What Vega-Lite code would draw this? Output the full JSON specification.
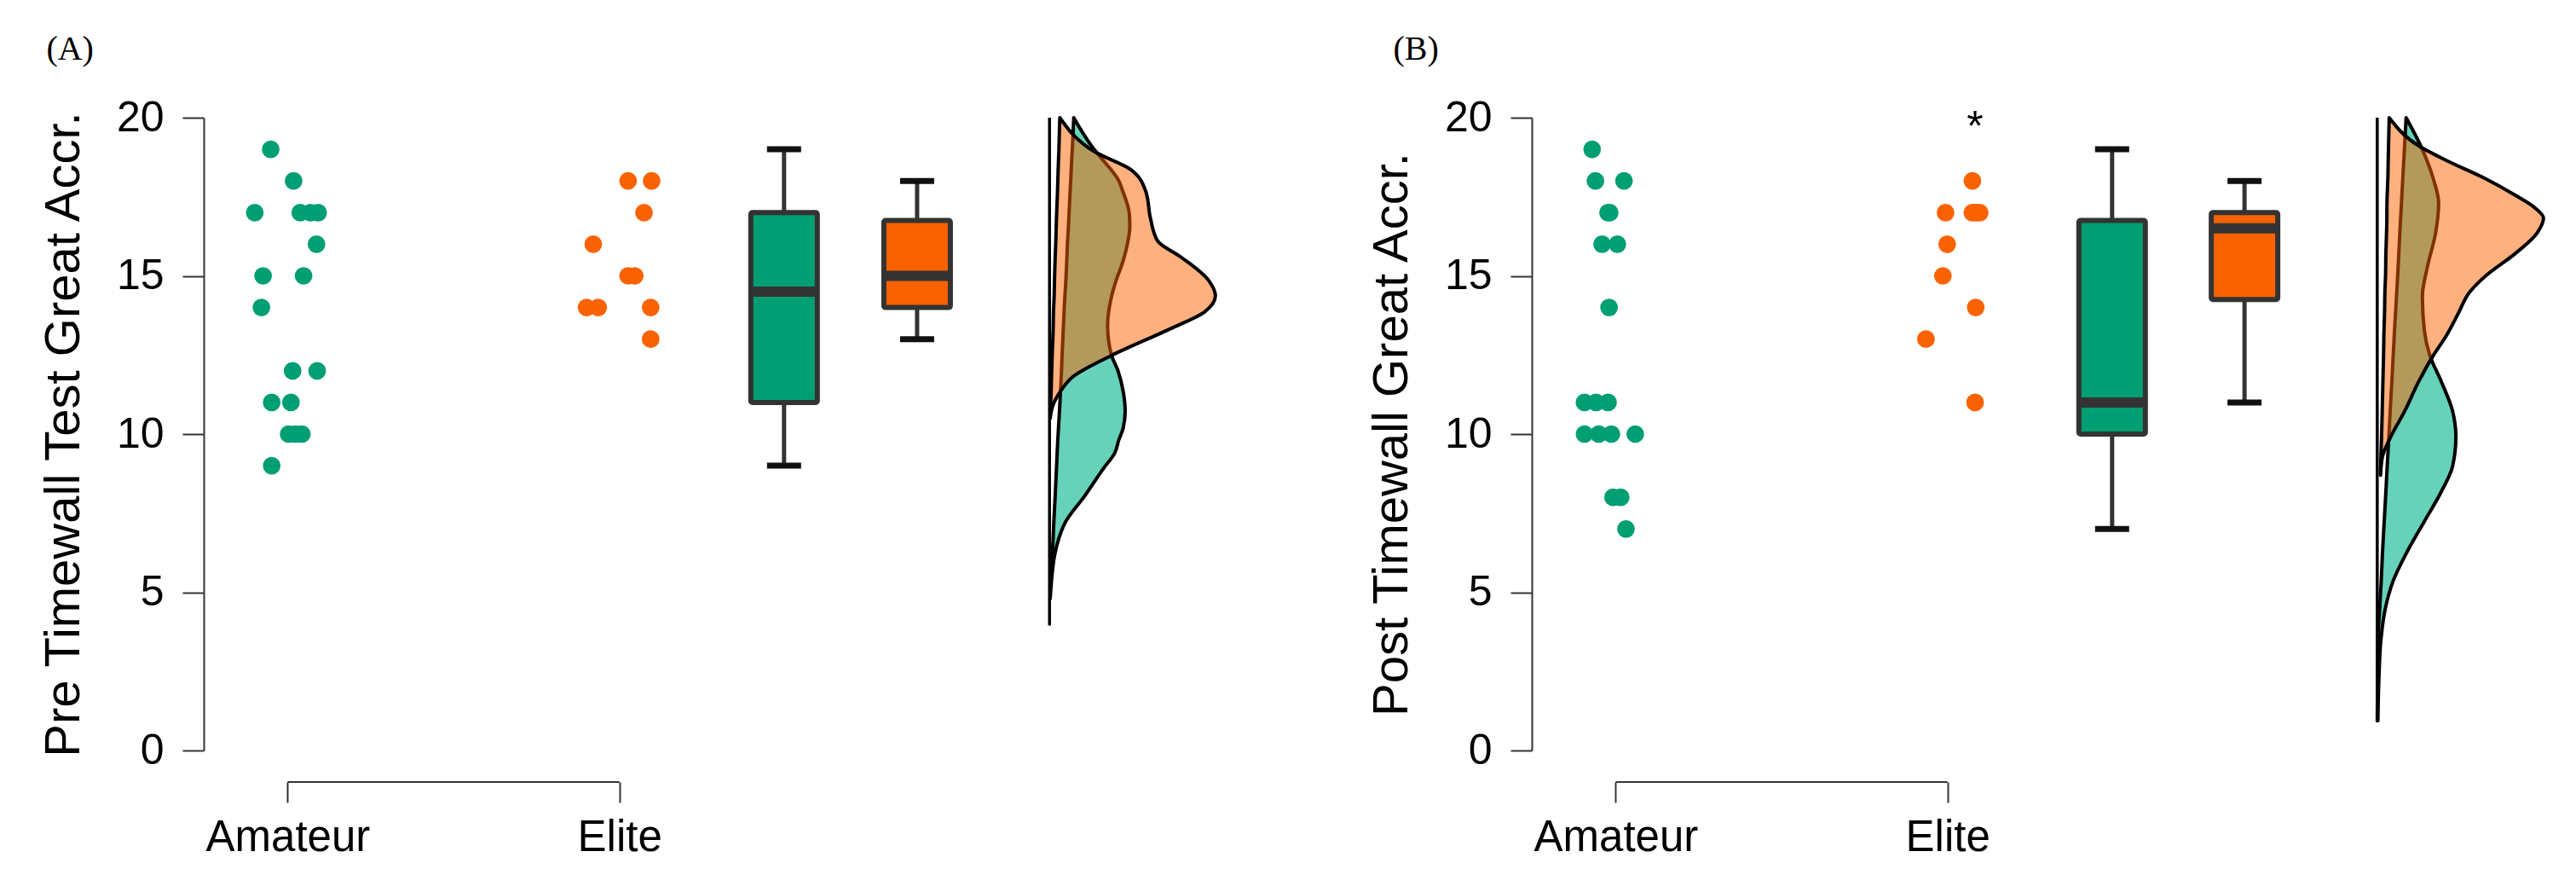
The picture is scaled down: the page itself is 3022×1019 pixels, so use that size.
{
  "$schema": "https://vega.github.io/schema/vega-lite/v6.json",
  "background": "white",
  "padding": {"left": 46, "top": 38, "right": 0, "bottom": 0},
  "spacing": 156,
  "config": {
    "view": {"stroke": null},
    "font": "Liberation Sans",
    "title": {"font": "Liberation Serif", "fontSize": 40, "fontWeight": "normal", "color": "black", "anchor": "start", "frame": "bounds"},
    "axisX": {"domain": false, "grid": false, "offset": 37, "tickSize": 24, "tickWidth": 2, "tickColor": "#333333", "labelFontSize": 51, "labelFont": "Liberation Sans", "labelColor": "black", "labelPadding": 16, "labelFlush": false, "labelLimit": 0},
    "axisY": {"grid": false, "domainColor": "#333333", "domainWidth": 2, "tickSize": 25, "tickWidth": 2, "tickColor": "#333333", "labelFontSize": 50, "labelFont": "Liberation Sans", "labelColor": "black", "labelPadding": 22, "labelFlush": false, "labelLimit": 0, "titleFontSize": 58, "titleFont": "Liberation Sans", "titleFontWeight": "normal", "titleColor": "black", "titlePadding": 32}
  },
  "datasets": {
    "points": [
      {"p": "A", "g": "Amateur", "u": 0.949, "v": 19},
      {"p": "A", "g": "Amateur", "u": 1.018, "v": 18},
      {"p": "A", "g": "Amateur", "u": 0.901, "v": 17},
      {"p": "A", "g": "Amateur", "u": 1.038, "v": 17},
      {"p": "A", "g": "Amateur", "u": 1.069, "v": 17},
      {"p": "A", "g": "Amateur", "u": 1.092, "v": 17},
      {"p": "A", "g": "Amateur", "u": 1.087, "v": 16},
      {"p": "A", "g": "Amateur", "u": 0.926, "v": 15},
      {"p": "A", "g": "Amateur", "u": 1.048, "v": 15},
      {"p": "A", "g": "Amateur", "u": 0.921, "v": 14},
      {"p": "A", "g": "Amateur", "u": 1.015, "v": 12},
      {"p": "A", "g": "Amateur", "u": 1.089, "v": 12},
      {"p": "A", "g": "Amateur", "u": 0.952, "v": 11},
      {"p": "A", "g": "Amateur", "u": 1.010, "v": 11},
      {"p": "A", "g": "Amateur", "u": 1.003, "v": 10},
      {"p": "A", "g": "Amateur", "u": 1.023, "v": 10},
      {"p": "A", "g": "Amateur", "u": 1.043, "v": 10},
      {"p": "A", "g": "Amateur", "u": 0.952, "v": 9},
      {"p": "A", "g": "Elite", "u": 2.026, "v": 18},
      {"p": "A", "g": "Elite", "u": 2.097, "v": 18},
      {"p": "A", "g": "Elite", "u": 2.074, "v": 17},
      {"p": "A", "g": "Elite", "u": 1.921, "v": 16},
      {"p": "A", "g": "Elite", "u": 2.026, "v": 15},
      {"p": "A", "g": "Elite", "u": 2.046, "v": 15},
      {"p": "A", "g": "Elite", "u": 1.901, "v": 14},
      {"p": "A", "g": "Elite", "u": 1.936, "v": 14},
      {"p": "A", "g": "Elite", "u": 2.094, "v": 14},
      {"p": "A", "g": "Elite", "u": 2.094, "v": 13},
      {"p": "B", "g": "Amateur", "u": 0.929, "v": 19},
      {"p": "B", "g": "Amateur", "u": 0.939, "v": 18},
      {"p": "B", "g": "Amateur", "u": 1.025, "v": 18},
      {"p": "B", "g": "Amateur", "u": 0.977, "v": 17},
      {"p": "B", "g": "Amateur", "u": 0.982, "v": 17},
      {"p": "B", "g": "Amateur", "u": 0.959, "v": 16},
      {"p": "B", "g": "Amateur", "u": 1.005, "v": 16},
      {"p": "B", "g": "Amateur", "u": 0.980, "v": 14},
      {"p": "B", "g": "Amateur", "u": 0.906, "v": 11},
      {"p": "B", "g": "Amateur", "u": 0.941, "v": 11},
      {"p": "B", "g": "Amateur", "u": 0.977, "v": 11},
      {"p": "B", "g": "Amateur", "u": 0.906, "v": 10},
      {"p": "B", "g": "Amateur", "u": 0.949, "v": 10},
      {"p": "B", "g": "Amateur", "u": 0.987, "v": 10},
      {"p": "B", "g": "Amateur", "u": 1.059, "v": 10},
      {"p": "B", "g": "Amateur", "u": 0.992, "v": 8},
      {"p": "B", "g": "Amateur", "u": 1.015, "v": 8},
      {"p": "B", "g": "Amateur", "u": 1.031, "v": 7},
      {"p": "B", "g": "Elite", "u": 2.075, "v": 18},
      {"p": "B", "g": "Elite", "u": 1.994, "v": 17},
      {"p": "B", "g": "Elite", "u": 2.075, "v": 17},
      {"p": "B", "g": "Elite", "u": 2.085, "v": 17},
      {"p": "B", "g": "Elite", "u": 2.097, "v": 17},
      {"p": "B", "g": "Elite", "u": 1.999, "v": 16},
      {"p": "B", "g": "Elite", "u": 1.986, "v": 15},
      {"p": "B", "g": "Elite", "u": 2.085, "v": 14},
      {"p": "B", "g": "Elite", "u": 1.935, "v": 13},
      {"p": "B", "g": "Elite", "u": 2.083, "v": 11}
    ],
    "boxes": [
      {"p": "A", "g": "Amateur", "u": 2.496, "min": 9, "q1": 11, "med": 14.5, "q3": 17, "max": 19},
      {"p": "A", "g": "Elite", "u": 2.897, "min": 13, "q1": 14, "med": 15, "q3": 16.75, "max": 18},
      {"p": "B", "g": "Amateur", "u": 2.496, "min": 7, "q1": 10, "med": 11, "q3": 16.75, "max": 19},
      {"p": "B", "g": "Elite", "u": 2.895, "min": 11, "q1": 14.25, "med": 16.5, "q3": 17, "max": 18}
    ],
    "dens": [
      {"p": "A", "g": "Amateur", "v": 20, "u": 3.369, "u2": 3.369},
      {"p": "A", "g": "Amateur", "v": 19.06, "u": 3.365, "u2": 3.426},
      {"p": "A", "g": "Amateur", "v": 18.7, "u": 3.363, "u2": 3.454},
      {"p": "A", "g": "Amateur", "v": 18.04, "u": 3.36, "u2": 3.503},
      {"p": "A", "g": "Amateur", "v": 17.64, "u": 3.358, "u2": 3.518},
      {"p": "A", "g": "Amateur", "v": 17.0, "u": 3.355, "u2": 3.536},
      {"p": "A", "g": "Amateur", "v": 16.56, "u": 3.353, "u2": 3.538},
      {"p": "A", "g": "Amateur", "v": 16.02, "u": 3.35, "u2": 3.531},
      {"p": "A", "g": "Amateur", "v": 15.48, "u": 3.348, "u2": 3.518},
      {"p": "A", "g": "Amateur", "v": 14.8, "u": 3.345, "u2": 3.495},
      {"p": "A", "g": "Amateur", "v": 14.31, "u": 3.342, "u2": 3.482},
      {"p": "A", "g": "Amateur", "v": 13.42, "u": 3.338, "u2": 3.471},
      {"p": "A", "g": "Amateur", "v": 12.52, "u": 3.334, "u2": 3.482},
      {"p": "A", "g": "Amateur", "v": 11.98, "u": 3.332, "u2": 3.503},
      {"p": "A", "g": "Amateur", "v": 11.35, "u": 3.329, "u2": 3.518},
      {"p": "A", "g": "Amateur", "v": 10.72, "u": 3.326, "u2": 3.524},
      {"p": "A", "g": "Amateur", "v": 10.19, "u": 3.323, "u2": 3.518},
      {"p": "A", "g": "Amateur", "v": 9.82, "u": 3.321, "u2": 3.505},
      {"p": "A", "g": "Amateur", "v": 9.39, "u": 3.319, "u2": 3.492},
      {"p": "A", "g": "Amateur", "v": 8.92, "u": 3.317, "u2": 3.459},
      {"p": "A", "g": "Amateur", "v": 8.03, "u": 3.313, "u2": 3.401},
      {"p": "A", "g": "Amateur", "v": 7.22, "u": 3.309, "u2": 3.344},
      {"p": "A", "g": "Amateur", "v": 6.7, "u": 3.307, "u2": 3.324},
      {"p": "A", "g": "Amateur", "v": 6.15, "u": 3.304, "u2": 3.311},
      {"p": "A", "g": "Amateur", "v": 5.58, "u": 3.302, "u2": 3.304},
      {"p": "A", "g": "Amateur", "v": 4.8, "u": 3.298, "u2": 3.298},
      {"p": "A", "g": "Elite", "v": 20, "u": 3.327, "u2": 3.327},
      {"p": "A", "g": "Elite", "v": 18.9, "u": 3.324, "u2": 3.436},
      {"p": "A", "g": "Elite", "v": 18.36, "u": 3.322, "u2": 3.541},
      {"p": "A", "g": "Elite", "v": 17.64, "u": 3.32, "u2": 3.587},
      {"p": "A", "g": "Elite", "v": 16.83, "u": 3.317, "u2": 3.6},
      {"p": "A", "g": "Elite", "v": 16.1, "u": 3.315, "u2": 3.622},
      {"p": "A", "g": "Elite", "v": 15.58, "u": 3.313, "u2": 3.694},
      {"p": "A", "g": "Elite", "v": 14.85, "u": 3.311, "u2": 3.776},
      {"p": "A", "g": "Elite", "v": 14.37, "u": 3.31, "u2": 3.796},
      {"p": "A", "g": "Elite", "v": 13.86, "u": 3.308, "u2": 3.763},
      {"p": "A", "g": "Elite", "v": 13.32, "u": 3.307, "u2": 3.658},
      {"p": "A", "g": "Elite", "v": 12.48, "u": 3.304, "u2": 3.482},
      {"p": "A", "g": "Elite", "v": 11.8, "u": 3.302, "u2": 3.365},
      {"p": "A", "g": "Elite", "v": 11.35, "u": 3.301, "u2": 3.329},
      {"p": "A", "g": "Elite", "v": 10.9, "u": 3.299, "u2": 3.306},
      {"p": "A", "g": "Elite", "v": 10.5, "u": 3.298, "u2": 3.298},
      {"p": "B", "g": "Amateur", "v": 20, "u": 3.382, "u2": 3.382},
      {"p": "B", "g": "Amateur", "v": 19.04, "u": 3.377, "u2": 3.429},
      {"p": "B", "g": "Amateur", "v": 18.1, "u": 3.372, "u2": 3.463},
      {"p": "B", "g": "Amateur", "v": 17.3, "u": 3.368, "u2": 3.48},
      {"p": "B", "g": "Amateur", "v": 16.36, "u": 3.363, "u2": 3.471},
      {"p": "B", "g": "Amateur", "v": 15.28, "u": 3.358, "u2": 3.446},
      {"p": "B", "g": "Amateur", "v": 14.35, "u": 3.353, "u2": 3.431},
      {"p": "B", "g": "Amateur", "v": 13.27, "u": 3.347, "u2": 3.437},
      {"p": "B", "g": "Amateur", "v": 12.47, "u": 3.343, "u2": 3.454},
      {"p": "B", "g": "Amateur", "v": 11.66, "u": 3.339, "u2": 3.488},
      {"p": "B", "g": "Amateur", "v": 10.73, "u": 3.334, "u2": 3.522},
      {"p": "B", "g": "Amateur", "v": 9.92, "u": 3.33, "u2": 3.532},
      {"p": "B", "g": "Amateur", "v": 8.98, "u": 3.325, "u2": 3.522},
      {"p": "B", "g": "Amateur", "v": 8.18, "u": 3.321, "u2": 3.488},
      {"p": "B", "g": "Amateur", "v": 7.24, "u": 3.316, "u2": 3.437},
      {"p": "B", "g": "Amateur", "v": 6.3, "u": 3.311, "u2": 3.386},
      {"p": "B", "g": "Amateur", "v": 5.36, "u": 3.307, "u2": 3.343},
      {"p": "B", "g": "Amateur", "v": 4.42, "u": 3.302, "u2": 3.318},
      {"p": "B", "g": "Amateur", "v": 3.49, "u": 3.297, "u2": 3.306},
      {"p": "B", "g": "Amateur", "v": 2.28, "u": 3.296, "u2": 3.3},
      {"p": "B", "g": "Amateur", "v": 0.94, "u": 3.295, "u2": 3.297},
      {"p": "B", "g": "Elite", "v": 20, "u": 3.331, "u2": 3.331},
      {"p": "B", "g": "Elite", "v": 19.11, "u": 3.329, "u2": 3.42},
      {"p": "B", "g": "Elite", "v": 18.64, "u": 3.328, "u2": 3.505},
      {"p": "B", "g": "Elite", "v": 18.1, "u": 3.327, "u2": 3.616},
      {"p": "B", "g": "Elite", "v": 17.56, "u": 3.325, "u2": 3.709},
      {"p": "B", "g": "Elite", "v": 17.16, "u": 3.324, "u2": 3.769},
      {"p": "B", "g": "Elite", "v": 16.83, "u": 3.324, "u2": 3.796},
      {"p": "B", "g": "Elite", "v": 16.36, "u": 3.323, "u2": 3.777},
      {"p": "B", "g": "Elite", "v": 15.69, "u": 3.321, "u2": 3.709},
      {"p": "B", "g": "Elite", "v": 15.02, "u": 3.32, "u2": 3.624},
      {"p": "B", "g": "Elite", "v": 14.48, "u": 3.318, "u2": 3.573},
      {"p": "B", "g": "Elite", "v": 13.81, "u": 3.317, "u2": 3.539},
      {"p": "B", "g": "Elite", "v": 13.14, "u": 3.315, "u2": 3.505},
      {"p": "B", "g": "Elite", "v": 12.47, "u": 3.314, "u2": 3.463},
      {"p": "B", "g": "Elite", "v": 11.66, "u": 3.312, "u2": 3.42},
      {"p": "B", "g": "Elite", "v": 10.73, "u": 3.31, "u2": 3.378},
      {"p": "B", "g": "Elite", "v": 9.92, "u": 3.308, "u2": 3.336},
      {"p": "B", "g": "Elite", "v": 9.25, "u": 3.306, "u2": 3.31},
      {"p": "B", "g": "Elite", "v": 8.7, "u": 3.305, "u2": 3.305}
    ],
    "vlines": [
      {"p": "A", "u": 3.296, "v": 3.95, "v2": 20},
      {"p": "B", "u": 3.295, "v": 0.94, "v2": 20}
    ],
    "notes": [
      {"p": "B", "u": 2.083, "v": 20, "t": "*"}
    ]
  },
  "hconcat": [
    {
      "width": 1209,
      "height": 742,
      "title": {"text": "(A)", "dx": 8, "offset": 35},
      "encoding": {
        "x": {"field": "u", "type": "quantitative", "title": null, "scale": {"domain": [0.76, 3.84], "nice": false, "zero": false},
          "axis": {"values": [1, 2], "labelExpr": "datum.value == 1 ? 'Amateur' : 'Elite'"}},
        "y": {"field": "v", "type": "quantitative", "title": "Pre Timewall Test Great Accr.", "scale": {"domain": [0, 20], "nice": false, "zero": false},
          "axis": {"values": [0, 5, 10, 15, 20]}}
      },
      "layer": [
        {"data": {"name": "vlines"}, "transform": [{"filter": "datum.p == 'A'"}], "mark": {"type": "rule", "color": "black", "strokeWidth": 3.5}, "encoding": {"y2": {"field": "v2"}}},
        {"data": {"name": "dens"}, "transform": [{"filter": "datum.p == 'A' && datum.g == 'Amateur'"}], "mark": {"type": "area", "orient": "horizontal", "interpolate": "monotone", "fill": "#00B48A", "fillOpacity": 0.6, "stroke": "black", "strokeWidth": 4, "strokeJoin": "round"}, "encoding": {"x2": {"field": "u2"}}},
        {"data": {"name": "dens"}, "transform": [{"filter": "datum.p == 'A' && datum.g == 'Elite'"}], "mark": {"type": "area", "orient": "horizontal", "interpolate": "monotone", "fill": "#FF6100", "fillOpacity": 0.5, "stroke": "black", "strokeWidth": 4, "strokeJoin": "round"}, "encoding": {"x2": {"field": "u2"}}},
        {"data": {"name": "boxes"}, "transform": [{"filter": "datum.p == 'A'"}], "mark": {"type": "rule", "color": "#333333", "strokeWidth": 5}, "encoding": {"y": {"field": "min", "type": "quantitative", "title": "Pre Timewall Test Great Accr.", "scale": {"domain": [0, 20], "nice": false, "zero": false}, "axis": {"values": [0, 5, 10, 15, 20]}}, "y2": {"field": "max"}}},
        {"data": {"name": "boxes"}, "transform": [{"filter": "datum.p == 'A'"}], "mark": {"type": "bar", "width": 78, "stroke": "#333333", "strokeWidth": 6, "cornerRadius": 2}, "encoding": {"y": {"field": "q1", "type": "quantitative", "title": "Pre Timewall Test Great Accr.", "scale": {"domain": [0, 20], "nice": false, "zero": false}, "axis": {"values": [0, 5, 10, 15, 20]}}, "y2": {"field": "q3"}, "fill": {"field": "g", "type": "nominal", "scale": {"domain": ["Amateur", "Elite"], "range": ["#009E73", "#FA6200"]}, "legend": null}}},
        {"data": {"name": "boxes"}, "transform": [{"filter": "datum.p == 'A'"}], "mark": {"type": "tick", "orient": "horizontal", "size": 82, "thickness": 12, "color": "#333333", "opacity": 1}, "encoding": {"y": {"field": "med", "type": "quantitative", "title": "Pre Timewall Test Great Accr.", "scale": {"domain": [0, 20], "nice": false, "zero": false}, "axis": {"values": [0, 5, 10, 15, 20]}}}},
        {"data": {"name": "boxes"}, "transform": [{"filter": "datum.p == 'A'"}], "mark": {"type": "tick", "orient": "horizontal", "size": 40, "thickness": 7, "color": "#111111", "opacity": 1}, "encoding": {"y": {"field": "min", "type": "quantitative", "title": "Pre Timewall Test Great Accr.", "scale": {"domain": [0, 20], "nice": false, "zero": false}, "axis": {"values": [0, 5, 10, 15, 20]}}}},
        {"data": {"name": "boxes"}, "transform": [{"filter": "datum.p == 'A'"}], "mark": {"type": "tick", "orient": "horizontal", "size": 40, "thickness": 7, "color": "#111111", "opacity": 1}, "encoding": {"y": {"field": "max", "type": "quantitative", "title": "Pre Timewall Test Great Accr.", "scale": {"domain": [0, 20], "nice": false, "zero": false}, "axis": {"values": [0, 5, 10, 15, 20]}}}},
        {"data": {"name": "points"}, "transform": [{"filter": "datum.p == 'A'"}], "mark": {"type": "circle", "size": 430, "opacity": 1}, "encoding": {"fill": {"field": "g", "type": "nominal", "scale": {"domain": ["Amateur", "Elite"], "range": ["#009E73", "#FA6200"]}, "legend": null}}},
        {"data": {"values": [{"a": 1, "b": 2, "c": -1}]}, "mark": {"type": "rule", "color": "#333333", "strokeWidth": 2}, "encoding": {"x": {"field": "a", "type": "quantitative", "title": null, "scale": {"domain": [0.76, 3.84], "nice": false, "zero": false}, "axis": {"values": [1, 2], "labelExpr": "datum.value == 1 ? 'Amateur' : 'Elite'"}}, "x2": {"field": "b"}, "y": {"field": "c", "type": "quantitative", "title": "Pre Timewall Test Great Accr.", "scale": {"domain": [0, 20], "nice": false, "zero": false}, "axis": {"values": [0, 5, 10, 15, 20]}}}}
      ]
    },
    {
      "width": 1209,
      "height": 742,
      "title": {"text": "(B)", "dx": 30, "offset": 35},
      "encoding": {
        "x": {"field": "u", "type": "quantitative", "title": null, "scale": {"domain": [0.76, 3.84], "nice": false, "zero": false},
          "axis": {"values": [1, 2], "labelExpr": "datum.value == 1 ? 'Amateur' : 'Elite'"}},
        "y": {"field": "v", "type": "quantitative", "title": "Post Timewall Great Accr.", "scale": {"domain": [0, 20], "nice": false, "zero": false},
          "axis": {"values": [0, 5, 10, 15, 20]}}
      },
      "layer": [
        {"data": {"name": "vlines"}, "transform": [{"filter": "datum.p == 'B'"}], "mark": {"type": "rule", "color": "black", "strokeWidth": 3.5}, "encoding": {"y2": {"field": "v2"}}},
        {"data": {"name": "dens"}, "transform": [{"filter": "datum.p == 'B' && datum.g == 'Amateur'"}], "mark": {"type": "area", "orient": "horizontal", "interpolate": "monotone", "fill": "#00B48A", "fillOpacity": 0.6, "stroke": "black", "strokeWidth": 4, "strokeJoin": "round"}, "encoding": {"x2": {"field": "u2"}}},
        {"data": {"name": "dens"}, "transform": [{"filter": "datum.p == 'B' && datum.g == 'Elite'"}], "mark": {"type": "area", "orient": "horizontal", "interpolate": "monotone", "fill": "#FF6100", "fillOpacity": 0.5, "stroke": "black", "strokeWidth": 4, "strokeJoin": "round"}, "encoding": {"x2": {"field": "u2"}}},
        {"data": {"name": "boxes"}, "transform": [{"filter": "datum.p == 'B'"}], "mark": {"type": "rule", "color": "#333333", "strokeWidth": 5}, "encoding": {"y": {"field": "min", "type": "quantitative", "title": "Post Timewall Great Accr.", "scale": {"domain": [0, 20], "nice": false, "zero": false}, "axis": {"values": [0, 5, 10, 15, 20]}}, "y2": {"field": "max"}}},
        {"data": {"name": "boxes"}, "transform": [{"filter": "datum.p == 'B'"}], "mark": {"type": "bar", "width": 78, "stroke": "#333333", "strokeWidth": 6, "cornerRadius": 2}, "encoding": {"y": {"field": "q1", "type": "quantitative", "title": "Post Timewall Great Accr.", "scale": {"domain": [0, 20], "nice": false, "zero": false}, "axis": {"values": [0, 5, 10, 15, 20]}}, "y2": {"field": "q3"}, "fill": {"field": "g", "type": "nominal", "scale": {"domain": ["Amateur", "Elite"], "range": ["#009E73", "#FA6200"]}, "legend": null}}},
        {"data": {"name": "boxes"}, "transform": [{"filter": "datum.p == 'B'"}], "mark": {"type": "tick", "orient": "horizontal", "size": 82, "thickness": 12, "color": "#333333", "opacity": 1}, "encoding": {"y": {"field": "med", "type": "quantitative", "title": "Post Timewall Great Accr.", "scale": {"domain": [0, 20], "nice": false, "zero": false}, "axis": {"values": [0, 5, 10, 15, 20]}}}},
        {"data": {"name": "boxes"}, "transform": [{"filter": "datum.p == 'B'"}], "mark": {"type": "tick", "orient": "horizontal", "size": 40, "thickness": 7, "color": "#111111", "opacity": 1}, "encoding": {"y": {"field": "min", "type": "quantitative", "title": "Post Timewall Great Accr.", "scale": {"domain": [0, 20], "nice": false, "zero": false}, "axis": {"values": [0, 5, 10, 15, 20]}}}},
        {"data": {"name": "boxes"}, "transform": [{"filter": "datum.p == 'B'"}], "mark": {"type": "tick", "orient": "horizontal", "size": 40, "thickness": 7, "color": "#111111", "opacity": 1}, "encoding": {"y": {"field": "max", "type": "quantitative", "title": "Post Timewall Great Accr.", "scale": {"domain": [0, 20], "nice": false, "zero": false}, "axis": {"values": [0, 5, 10, 15, 20]}}}},
        {"data": {"name": "points"}, "transform": [{"filter": "datum.p == 'B'"}], "mark": {"type": "circle", "size": 430, "opacity": 1}, "encoding": {"fill": {"field": "g", "type": "nominal", "scale": {"domain": ["Amateur", "Elite"], "range": ["#009E73", "#FA6200"]}, "legend": null}}},
        {"data": {"name": "notes"}, "mark": {"type": "text", "fontSize": 50, "font": "Liberation Sans", "color": "black", "baseline": "middle", "dy": 12}, "encoding": {"text": {"field": "t"}}},
        {"data": {"values": [{"a": 1, "b": 2, "c": -1}]}, "mark": {"type": "rule", "color": "#333333", "strokeWidth": 2}, "encoding": {"x": {"field": "a", "type": "quantitative", "title": null, "scale": {"domain": [0.76, 3.84], "nice": false, "zero": false}, "axis": {"values": [1, 2], "labelExpr": "datum.value == 1 ? 'Amateur' : 'Elite'"}}, "x2": {"field": "b"}, "y": {"field": "c", "type": "quantitative", "title": "Post Timewall Great Accr.", "scale": {"domain": [0, 20], "nice": false, "zero": false}, "axis": {"values": [0, 5, 10, 15, 20]}}}}
      ]
    }
  ]
}
